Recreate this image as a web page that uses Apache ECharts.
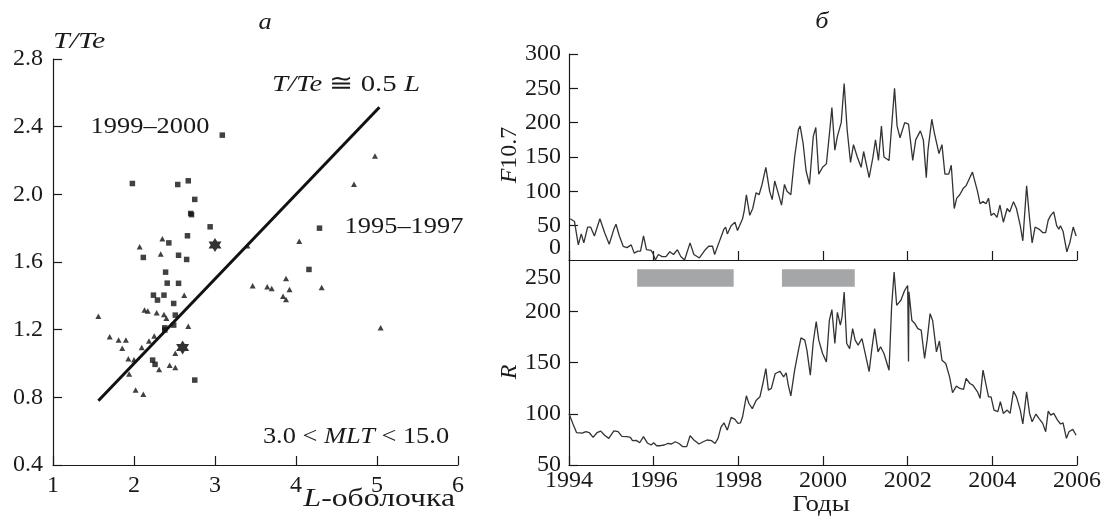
<!DOCTYPE html>
<html>
<head>
<meta charset="utf-8">
<script src="https://cdn.jsdelivr.net/npm/echarts@6/dist/echarts.min.js"></script>
<style>
  html, body { margin: 0; padding: 0; background: #fff; }
  #chart { width: 1106px; height: 525px; }
</style>
</head>
<body>
<div id="chart"></div>
<script>
// ---- Panel а: T/Te versus L-shell ----
const squares1999 = [
  [3.09, 2.35], [1.98, 2.064], [2.54, 2.058], [2.67, 2.08], [2.75, 1.97],
  [2.70, 1.887], [2.71, 1.88], [2.94, 1.808], [2.66, 1.755], [2.43, 1.713],
  [2.115, 1.627], [2.55, 1.64], [2.65, 1.615], [2.39, 1.54], [2.41, 1.475],
  [2.55, 1.474], [2.24, 1.404], [2.29, 1.375], [2.37, 1.404], [2.49, 1.355],
  [2.51, 1.286], [2.49, 1.227], [2.38, 1.211], [2.38, 1.198], [2.23, 1.02],
  [2.26, 0.995], [2.75, 0.902], [4.29, 1.80], [4.16, 1.556]
];
const triangles1995 = [
  [1.56, 1.28], [2.07, 1.69], [2.35, 1.737], [2.33, 1.648], [2.62, 1.404],
  [2.13, 1.316], [2.17, 1.31], [2.28, 1.30], [2.37, 1.29], [2.40, 1.267],
  [2.67, 1.22], [1.70, 1.158], [1.81, 1.139], [1.90, 1.139], [1.855, 1.09],
  [2.095, 1.095], [2.185, 1.133], [2.25, 1.162], [1.93, 1.028], [2.0, 1.022],
  [1.94, 0.938], [2.44, 0.99], [2.51, 0.977], [2.31, 0.965], [2.51, 1.06],
  [2.02, 0.843], [2.115, 0.818], [3.40, 1.696], [3.465, 1.46], [3.645, 1.453],
  [3.70, 1.444], [4.975, 2.226], [4.716, 2.06], [4.04, 1.723], [3.877, 1.503],
  [3.92, 1.438], [3.84, 1.398], [3.877, 1.379], [4.317, 1.45], [5.045, 1.211]
];
const starPoints = [[3.0, 1.70], [2.60, 1.095]];
const fitSlope = 0.5;           // T/Te ≅ 0.5 L
const fitRange = [1.56, 5.03];

// ---- Panel б: F10.7 and R, 1994–2006 ----
const f107Years = [
  1994.03, 1994.13, 1994.22, 1994.29, 1994.35, 1994.44, 1994.51, 1994.60, 1994.73, 1994.84,
  1994.95, 1995.06, 1995.11, 1995.19, 1995.28, 1995.37, 1995.47, 1995.54, 1995.63, 1995.69,
  1995.76, 1995.83, 1995.94, 1995.98, 1996.04, 1996.11, 1996.20, 1996.29, 1996.38, 1996.47,
  1996.56, 1996.64, 1996.73, 1996.86, 1996.95, 1997.08, 1997.22, 1997.30, 1997.39, 1997.44,
  1997.57, 1997.66, 1997.70, 1997.74, 1997.83, 1997.92, 1997.98, 1998.10, 1998.14, 1998.19,
  1998.27, 1998.34, 1998.42, 1998.49, 1998.56, 1998.65, 1998.74, 1998.80, 1998.86, 1998.93,
  1999.02, 1999.09, 1999.15, 1999.24, 1999.33, 1999.42, 1999.46, 1999.53, 1999.60, 1999.68,
  1999.77, 1999.83, 1999.90, 1999.99, 2000.08, 2000.17, 2000.21, 2000.28, 2000.34, 2000.43,
  2000.50, 2000.57, 2000.65, 2000.72, 2000.81, 2000.90, 2000.96, 2001.09, 2001.18, 2001.24,
  2001.31, 2001.38, 2001.44, 2001.56, 2001.69, 2001.75, 2001.82, 2001.93, 2002.02, 2002.12,
  2002.19, 2002.30, 2002.37, 2002.44, 2002.48, 2002.57, 2002.63, 2002.74, 2002.81, 2002.88,
  2002.97, 2003.03, 2003.10, 2003.16, 2003.23, 2003.32, 2003.38, 2003.47, 2003.53, 2003.65,
  2003.71, 2003.78, 2003.85, 2003.91, 2003.97, 2004.04, 2004.11, 2004.18, 2004.26, 2004.35,
  2004.41, 2004.50, 2004.57, 2004.66, 2004.72, 2004.81, 2004.88, 2004.94, 2005.01, 2005.10,
  2005.19, 2005.26, 2005.32, 2005.38, 2005.45, 2005.52, 2005.57, 2005.61, 2005.67, 2005.76,
  2005.83, 2005.91, 2005.98
];
const f107Values = [
  60, 56, 22, 38, 25, 48, 48, 35, 60, 40,
  23, 45, 52, 35, 20, 18, 22, 10, 13, 13,
  35, 15, 14, 10, 0, 8, 5, 5, 12, 8,
  15, 5, 0, 25, 8, 3, 15, 20, 20, 8,
  30, 45, 48, 38, 50, 55, 43, 60, 72, 95,
  65, 75, 98, 95, 110, 135, 100, 88, 115, 100,
  80, 110, 100, 95, 150, 190, 195, 170, 130, 110,
  180, 193, 125, 135, 140, 195, 222, 160, 180, 200,
  257, 190, 142, 168, 150, 135, 158, 120, 150, 175,
  145, 195, 150, 145, 250, 195, 178, 200, 198, 145,
  175, 188, 175, 120, 160, 205, 185, 155, 168, 125,
  125, 138, 75, 90, 95, 105, 108, 120, 128, 100,
  82, 85, 82, 90, 65, 68, 62, 80, 55, 75,
  70, 85, 75, 50, 28, 108, 60, 25, 48, 45,
  40, 40, 58, 65, 70, 50, 45, 50, 42, 12,
  25, 48, 35
];
const rYears = [
  1994.00, 1994.09, 1994.18, 1994.31, 1994.40, 1994.48, 1994.57, 1994.66, 1994.75, 1994.84,
  1994.94, 1995.06, 1995.16, 1995.25, 1995.37, 1995.45, 1995.50, 1995.59, 1995.67, 1995.76,
  1995.85, 1995.94, 1996.00, 1996.07, 1996.16, 1996.25, 1996.33, 1996.42, 1996.51, 1996.60,
  1996.69, 1996.78, 1996.86, 1996.95, 1997.07, 1997.17, 1997.26, 1997.37, 1997.45, 1997.52,
  1997.59, 1997.66, 1997.74, 1997.83, 1997.92, 1997.99, 1998.05, 1998.10, 1998.19, 1998.25,
  1998.33, 1998.42, 1998.51, 1998.58, 1998.65, 1998.71, 1998.78, 1998.87, 1998.98, 1999.07,
  1999.13, 1999.18, 1999.24, 1999.33, 1999.42, 1999.48, 1999.57, 1999.62, 1999.70, 1999.77,
  1999.84, 1999.90, 1999.99, 2000.08, 2000.15, 2000.21, 2000.28, 2000.34, 2000.41, 2000.45,
  2000.50, 2000.56, 2000.63, 2000.70, 2000.76, 2000.83, 2000.92, 2000.98, 2001.09, 2001.15,
  2001.22, 2001.30, 2001.36, 2001.44, 2001.56, 2001.62, 2001.68, 2001.74, 2001.84, 2001.93,
  2002.00, 2002.02, 2002.03, 2002.10, 2002.17, 2002.24, 2002.32, 2002.40, 2002.46, 2002.53,
  2002.59, 2002.68, 2002.75, 2002.81, 2002.90, 2002.99, 2003.06, 2003.15, 2003.23, 2003.32,
  2003.38, 2003.47, 2003.54, 2003.65, 2003.71, 2003.78, 2003.82, 2003.91, 2003.97, 2004.04,
  2004.13, 2004.19, 2004.26, 2004.35, 2004.42, 2004.50, 2004.57, 2004.66, 2004.72, 2004.81,
  2004.88, 2004.94, 2005.03, 2005.10, 2005.19, 2005.26, 2005.32, 2005.38, 2005.45, 2005.54,
  2005.61, 2005.67, 2005.75, 2005.81, 2005.90, 2005.98
];
const rValues = [
  100, 90.6, 81.5, 81, 82.5, 81.5, 77, 81.5, 83, 79,
  76, 83.4, 82.5, 78, 77.6, 77, 73.7, 74, 71.7, 77.6,
  71.5, 69.5, 71.7, 68.8, 68.8, 69.5, 71, 70.5, 72.7, 71,
  67.9, 67.9, 78.6, 74.4, 70.5, 72.7, 74.4, 73.7, 71, 76,
  87, 91.2, 84, 96.4, 94.5, 90.6, 91, 97, 117.5, 110,
  105, 113, 116.5, 129.5, 144, 123, 124.7, 139, 141.5, 136,
  140, 128, 117.5, 142.5, 162, 174, 171.8, 162, 137.7, 170,
  190, 171.8, 158.8, 150.6, 191, 201.6, 168.5, 199, 186.4, 194.5,
  218.8, 168.5, 163.6, 183, 171.8, 167, 173.4, 162, 141, 162,
  183, 160.4, 165.3, 158.8, 142.5, 204, 238.3, 205.8, 210.7, 220.5,
  225, 151, 219, 191, 188, 183, 181.5, 153.9, 171.8, 197.7,
  191, 160.4, 171, 152.3, 149, 136, 120.5, 127, 124.7, 123.7,
  134.4, 129.5, 128, 121.4, 115, 142.5, 141, 116.5, 116.5, 103.6,
  102, 111.7, 100.3, 103.6, 100.3, 122, 116.5, 103.6, 90, 121.4,
  100.3, 92.2, 99.7, 95.5, 90.6, 82.5, 102.6, 98.7, 100.3, 93.8,
  90, 91, 76, 82.5, 84.7, 79
];
// Shaded intervals above the R curve (start year, end year)
const shadedPeriods = [[1995.61, 1997.89], [1999.03, 2000.75]];
const shadedBand = [224, 241];

const yTicksLeft = { min: 0.4, max: 2.8, step: 0.4 };
const xTicksLeft = { min: 1, max: 6, step: 1 };
const yearTicks = { min: 1994, max: 2006, step: 2 };
const f107Ticks = { min: 0, max: 300, step: 50 };
const rTicks = { min: 50, max: 250, step: 50 };

const zip = (a, b) => a.map((v, i) => [v, b[i]]);

const SERIF = '"Liberation Serif", "DejaVu Serif", serif';
const INK = '#1a1a1a';
const FS = 24;

const labelStyle = { color: INK, fontFamily: SERIF, fontSize: FS };
const axisLine = { show: true, lineStyle: { color: INK, width: 1.2 } };
const axisTick = { show: true, inside: true, length: 9, lineStyle: { color: INK, width: 1.2 } };

const hexagram = 'path://M0,-10L8.66,5L-8.66,5Z M0,10L-8.66,-5L8.66,-5Z';

const chart = echarts.init(document.getElementById('chart'), null, { renderer: 'canvas' });

chart.setOption({
  animation: false,
  backgroundColor: '#ffffff',
  grid: [
    { left: 53, top: 59, width: 405, height: 406 },
    { left: 569, top: 54, width: 508, height: 206 },
    { left: 569, top: 260, width: 508, height: 205 }
  ],
  xAxis: [
    {
      gridIndex: 0, type: 'value', min: xTicksLeft.min, max: xTicksLeft.max, interval: xTicksLeft.step,
      axisLine, axisTick, splitLine: { show: false },
      axisLabel: Object.assign({ margin: 9 }, labelStyle)
    },
    {
      gridIndex: 1, type: 'value', min: yearTicks.min, max: yearTicks.max, interval: yearTicks.step,
      axisLine, axisTick, splitLine: { show: false }, axisLabel: { show: false }
    },
    {
      gridIndex: 2, type: 'value', min: yearTicks.min, max: yearTicks.max, interval: yearTicks.step,
      axisLine, axisTick, splitLine: { show: false },
      axisLabel: Object.assign({ margin: 4, formatter: v => String(v) }, labelStyle)
    }
  ],
  yAxis: [
    {
      gridIndex: 0, type: 'value', min: yTicksLeft.min, max: yTicksLeft.max, interval: yTicksLeft.step,
      axisLine, axisTick, splitLine: { show: false },
      axisLabel: Object.assign({ margin: 10, formatter: v => v.toFixed(1) }, labelStyle)
    },
    {
      gridIndex: 1, type: 'value', min: f107Ticks.min, max: f107Ticks.max, interval: f107Ticks.step,
      axisLine, axisTick, splitLine: { show: false },
      axisLabel: Object.assign({ margin: 8, showMinLabel: false }, labelStyle)
    },
    {
      gridIndex: 2, type: 'value', min: rTicks.min, max: rTicks.max, interval: rTicks.step,
      axisLine, axisTick, splitLine: { show: false },
      axisLabel: Object.assign({ margin: 8, showMaxLabel: false }, labelStyle)
    }
  ],
  series: [
    {
      name: '1999–2000', type: 'scatter', xAxisIndex: 0, yAxisIndex: 0,
      symbol: 'rect', symbolSize: 5.5, itemStyle: { color: '#111' },
      data: squares1999
    },
    {
      name: '1995–1997', type: 'scatter', xAxisIndex: 0, yAxisIndex: 0,
      symbol: 'triangle', symbolSize: [6, 5.5], itemStyle: { color: '#111' },
      data: triangles1995
    },
    {
      name: 'stars', type: 'scatter', xAxisIndex: 0, yAxisIndex: 0,
      symbol: hexagram, symbolSize: [13, 14], itemStyle: { color: '#000' },
      data: starPoints
    },
    {
      name: 'fit', type: 'line', xAxisIndex: 0, yAxisIndex: 0,
      showSymbol: false, symbol: 'none', z: 3,
      lineStyle: { color: '#111', width: 3 },
      data: fitRange.map(l => [l, fitSlope * l])
    },
    {
      name: 'F10.7', type: 'line', xAxisIndex: 1, yAxisIndex: 1,
      showSymbol: false, symbol: 'none',
      lineStyle: { color: '#333', width: 1.3 },
      data: zip(f107Years, f107Values)
    },
    {
      name: 'R', type: 'line', xAxisIndex: 2, yAxisIndex: 2,
      showSymbol: false, symbol: 'none',
      lineStyle: { color: '#333', width: 1.3 },
      data: zip(rYears, rValues),
      markArea: {
        silent: true,
        itemStyle: { color: '#a5a6a8', opacity: 1 },
        data: shadedPeriods.map(p => [
          { xAxis: p[0], yAxis: shadedBand[1] },
          { xAxis: p[1], yAxis: shadedBand[0] }
        ])
      }
    }
  ]
});

// Free text: panel letters, axis names, annotations, and the two
// boundary tick labels that sit just off their ticks.
// sx widens the serif face a little, as in the typeset figure.
function txt(x, y, text, opts) {
  opts = opts || {};
  const fs = opts.fontSize || FS;
  return {
    type: 'text', x: x, y: y, rotation: opts.rotation || 0, silent: true,
    scaleX: opts.sx || 1,
    style: {
      text: text,
      fill: INK,
      fontFamily: SERIF,
      fontSize: fs,
      fontStyle: opts.italic ? 'italic' : 'normal',
      textAlign: opts.align || 'center', align: opts.align || 'center',
      textVerticalAlign: 'middle', verticalAlign: 'middle',
      rich: {
        i: { fontFamily: SERIF, fontSize: fs, fontStyle: 'italic', fill: INK }
      }
    }
  };
}

const p0 = chart.convertToPixel({ xAxisIndex: 1, yAxisIndex: 1 }, [yearTicks.min, f107Ticks.min]);
const p250 = chart.convertToPixel({ xAxisIndex: 2, yAxisIndex: 2 }, [yearTicks.min, rTicks.max]);

chart.setOption({
  graphic: [
    txt(265, 23, 'а', { italic: true, sx: 1.1 }),
    txt(822, 22, 'б', { italic: true, sx: 1.1 }),
    txt(53, 42, '{i|T/Te}', { align: 'left', sx: 1.25 }),
    txt(346, 85, '{i|T/Te} ≅ 0.5 {i|L}', { sx: 1.2 }),
    txt(150, 127, '1999–2000', { sx: 1.1 }),
    txt(404, 227, '1995–1997', { sx: 1.1 }),
    txt(356, 437, '3.0 < {i|MLT} < 15.0', { sx: 1.1 }),
    txt(455, 499, '{i|L}-оболочка', { align: 'right', fontSize: 26, sx: 1.22 }),
    txt(821, 505, 'Годы', { sx: 1.12 }),
    txt(510, 155, '{i|F}10.7', { rotation: Math.PI / 2 }),
    txt(510, 372, '{i|R}', { rotation: Math.PI / 2 }),
    txt(p0[0] - 8, p0[1] - 12, String(f107Ticks.min), { align: 'right' }),
    txt(p250[0] - 8, p250[1] + 18, String(rTicks.max), { align: 'right' })
  ]
});
</script>
</body>
</html>
